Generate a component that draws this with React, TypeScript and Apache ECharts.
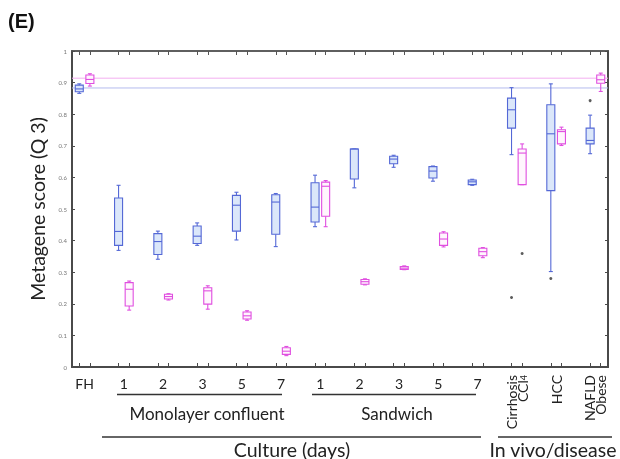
import React, { useEffect, useRef } from "react";
import * as echarts from "echarts";

// Group labels along the x axis (one per pair of boxes)
const groupLabels = [
  "FH", "1", "2", "3", "5", "7", "1", "2", "3", "5", "7",
  "Cirrhosis\nCCl4", "HCC", "NAFLD\nObese",
];

// Five-number summaries [min, q1, median, q3, max] for each group
const blueStats = [
  [0.866, 0.871, 0.880, 0.892, 0.896],
  [0.369, 0.385, 0.429, 0.535, 0.575],
  [0.341, 0.356, 0.397, 0.422, 0.430],
  [0.385, 0.391, 0.414, 0.446, 0.456],
  [0.402, 0.430, 0.512, 0.543, 0.553],
  [0.381, 0.420, 0.522, 0.545, 0.549],
  [0.444, 0.459, 0.506, 0.583, 0.607],
  [0.567, 0.595, 0.690, 0.690, 0.690],
  [0.632, 0.643, 0.658, 0.667, 0.670],
  [0.588, 0.598, 0.620, 0.634, 0.636],
  [0.575, 0.577, 0.586, 0.592, 0.594],
  [0.672, 0.756, 0.814, 0.851, 0.884],
  [0.302, 0.558, 0.738, 0.830, 0.896],
  [0.675, 0.706, 0.717, 0.756, 0.797],
];

const pinkStats = [
  [0.889, 0.897, 0.910, 0.924, 0.928],
  [0.180, 0.193, 0.246, 0.267, 0.272],
  [0.212, 0.215, 0.223, 0.230, 0.232],
  [0.183, 0.199, 0.241, 0.251, 0.257],
  [0.148, 0.152, 0.162, 0.174, 0.178],
  [0.036, 0.040, 0.050, 0.061, 0.065],
  [0.444, 0.477, 0.572, 0.585, 0.590],
  [0.260, 0.262, 0.270, 0.277, 0.279],
  [0.308, 0.309, 0.313, 0.318, 0.320],
  [0.380, 0.385, 0.405, 0.424, 0.428],
  [0.346, 0.352, 0.365, 0.376, 0.378],
  [0.577, 0.577, 0.677, 0.690, 0.706],
  [0.701, 0.706, 0.745, 0.751, 0.759],
  [0.872, 0.898, 0.909, 0.924, 0.930],
];

// Outliers as [group index, value]
const blueOutliers = [[11, 0.22], [12, 0.28], [13, 0.843]];
const pinkOutliers = [[11, 0.359]];

// Horizontal reference levels (FH medians)
const blueReference = 0.883;
const pinkReference = 0.914;

const BLUE_OFFSET = -0.135;
const PINK_OFFSET = 0.135;
const BOX_HALF = 0.102;

const blueStroke = "#5468d6";
const blueFill = "#dbe7fa";
const pinkStroke = "#e04fe0";
const pinkFill = "#fff6fd";

const font = "Lato, 'Open Sans', sans-serif";
const axisColor = "#4a4a4a";

const X_MIN = -0.32;
const X_MAX = 13.32;

const tickPositions: number[] = [];
groupLabels.forEach((_, i) => {
  tickPositions.push(i + BLUE_OFFSET, i + PINK_OFFSET);
});

const plainLabelValues = groupLabels.map((_, i) => i).filter((i) => i <= 10);
const rotatedLabelValues = groupLabels.map((_, i) => i).filter((i) => i > 10);

function makeBoxRenderer(offset: number, stroke: string, fill: string) {
  return (params: any, api: any) => {
    const x = api.value(0) + offset;
    const yMin = api.coord([x, api.value(1)])[1];
    const yQ1 = api.coord([x, api.value(2)])[1];
    const yMed = api.coord([x, api.value(3)])[1];
    const yQ3 = api.coord([x, api.value(4)])[1];
    const yMax = api.coord([x, api.value(5)])[1];
    const cx = api.coord([x, 0])[0];
    const hw = api.size([BOX_HALF, 0])[0];
    const cap = hw * 0.5;
    const ls = { stroke, lineWidth: 1.1 };
    return {
      type: "group",
      children: [
        { type: "line", shape: { x1: cx, y1: yMax, x2: cx, y2: yQ3 }, style: ls },
        { type: "line", shape: { x1: cx, y1: yQ1, x2: cx, y2: yMin }, style: ls },
        { type: "line", shape: { x1: cx - cap, y1: yMax, x2: cx + cap, y2: yMax }, style: ls },
        { type: "line", shape: { x1: cx - cap, y1: yMin, x2: cx + cap, y2: yMin }, style: ls },
        {
          type: "rect",
          shape: { x: cx - hw, y: yQ3, width: 2 * hw, height: Math.max(yQ1 - yQ3, 1.5) },
          style: { fill, stroke, lineWidth: 1.1 },
        },
        { type: "line", shape: { x1: cx - hw, y1: yMed, x2: cx + hw, y2: yMed }, style: ls },
      ],
    };
  };
}

// Vertical labels for the in vivo groups, placed under their group on the x scale
function rotatedLabelRenderer(params: any, api: any) {
  const idx = api.value(0);
  const [cx, cy] = api.coord([idx, 0]);
  const text =
    idx === 11
      ? "{a|Cirrhosis}\n{a|CCl}{s|4}"
      : groupLabels[idx]
          .split("\n")
          .map((t) => "{a|" + t + "}")
          .join("\n");
  return {
    type: "text",
    x: cx,
    y: cy + 8,
    rotation: Math.PI / 2,
    style: {
      text,
      align: "right",
      verticalAlign: "middle",
      fill: "#222",
      rich: {
        a: { fontSize: 14, fontFamily: font, fill: "#222", lineHeight: 11 },
        s: { fontSize: 9, fontFamily: font, fill: "#222", lineHeight: 11, verticalAlign: "bottom", padding: [4, 0, 0, 0] },
      },
    },
  };
}

// A horizontal reference line across the full plot width
function referenceSeries(value: number, color: string) {
  return {
    type: "line",
    xAxisIndex: 0,
    yAxisIndex: 0,
    z: 1,
    silent: true,
    showSymbol: false,
    symbol: "none",
    lineStyle: { color, width: 1 },
    itemStyle: { color },
    data: [
      [X_MIN, value],
      [X_MAX, value],
    ],
  };
}

export default function App() {
  const ref = useRef<HTMLDivElement>(null);

  useEffect(() => {
    if (!ref.current) return;
    const chart = echarts.init(ref.current, undefined, { renderer: "svg" });

    const option: any = {
      animation: false,
      grid: {
        left: 72,
        right: 12,
        top: 51,
        height: 316,
        show: true,
        borderColor: "#555",
        borderWidth: 1.5,
      },
      xAxis: [
        {
          type: "value",
          position: "bottom",
          min: X_MIN,
          max: X_MAX,
          splitLine: { show: false },
          axisLine: { show: true, onZero: false, lineStyle: { color: axisColor, width: 2 } },
          axisTick: {
            show: true,
            inside: true,
            length: 4,
            customValues: tickPositions,
            lineStyle: { color: axisColor, width: 1 },
          },
          axisLabel: {
            show: true,
            customValues: plainLabelValues,
            formatter: (v: number) => groupLabels[Math.round(v)],
            fontSize: 14,
            fontFamily: font,
            color: "#222",
            margin: 9,
          },
        },
        {
          type: "value",
          position: "top",
          min: X_MIN,
          max: X_MAX,
          splitLine: { show: false },
          axisLine: { show: true, onZero: false, lineStyle: { color: "#555", width: 1.5 } },
          axisTick: {
            show: true,
            inside: true,
            length: 4,
            customValues: tickPositions,
            lineStyle: { color: "#555", width: 1 },
          },
          axisLabel: { show: false },
        },
      ],
      yAxis: [
        {
          type: "value",
          position: "left",
          min: 0,
          max: 1,
          interval: 0.1,
          splitLine: { show: false },
          axisLine: { show: true, onZero: false, lineStyle: { color: axisColor, width: 2 } },
          axisTick: { show: true, inside: true, length: 3, lineStyle: { color: axisColor } },
          axisLabel: {
            fontSize: 6,
            color: "#777",
            fontFamily: font,
            margin: 5,
            formatter: (v: number) => (v === 0 ? "0" : v === 1 ? "1" : v.toFixed(1)),
          },
          name: "Metagene score (Q 3)",
          nameLocation: "middle",
          nameGap: 13,
          nameTextStyle: { fontSize: 19.5, fontFamily: font, color: "#222" },
        },
        {
          type: "value",
          position: "right",
          min: 0,
          max: 1,
          interval: 0.1,
          splitLine: { show: false },
          axisLine: { show: true, onZero: false, lineStyle: { color: axisColor, width: 2 } },
          axisTick: { show: true, inside: true, length: 3, lineStyle: { color: axisColor } },
          axisLabel: { show: false },
        },
      ],
      series: [
        referenceSeries(blueReference, "#b4bcee"),
        referenceSeries(pinkReference, "#f3aef0"),
        {
          type: "custom",
          name: "blue",
          renderItem: makeBoxRenderer(BLUE_OFFSET, blueStroke, blueFill),
          encode: { x: 0, y: [1, 2, 3, 4, 5] },
          data: blueStats.map((s, i) => [i, ...s]),
          z: 3,
        },
        {
          type: "custom",
          name: "pink",
          renderItem: makeBoxRenderer(PINK_OFFSET, pinkStroke, pinkFill),
          encode: { x: 0, y: [1, 2, 3, 4, 5] },
          data: pinkStats.map((s, i) => [i, ...s]),
          z: 3,
        },
        {
          type: "custom",
          name: "labels",
          silent: true,
          clip: false,
          renderItem: rotatedLabelRenderer,
          encode: { x: 0, y: 1 },
          data: rotatedLabelValues.map((i) => [i, 0]),
          z: 3,
        },
        {
          type: "scatter",
          symbolSize: 3,
          itemStyle: { color: "#333" },
          data: blueOutliers.map(([g, v]) => [g + BLUE_OFFSET, v]),
          z: 4,
        },
        {
          type: "scatter",
          symbolSize: 3,
          itemStyle: { color: "#333" },
          data: pinkOutliers.map(([g, v]) => [g + PINK_OFFSET, v]),
          z: 4,
        },
      ],
      graphic: [
        {
          type: "text",
          left: 8,
          top: 11,
          style: { text: "(E)", fontSize: 20, fontWeight: "bold", fontFamily: "'Liberation Sans', Arial, sans-serif", fill: "#111" },
        },
        { type: "line", shape: { x1: 117, y1: 394.5, x2: 282, y2: 394.5 }, style: { stroke: "#333", lineWidth: 1.4 } },
        { type: "line", shape: { x1: 312, y1: 394.5, x2: 476, y2: 394.5 }, style: { stroke: "#333", lineWidth: 1.4 } },
        {
          type: "text",
          x: 207,
          y: 413,
          style: { text: "Monolayer confluent", fontSize: 17, fontFamily: font, fill: "#222", align: "center", verticalAlign: "middle" },
        },
        {
          type: "text",
          x: 397,
          y: 413,
          style: { text: "Sandwich", fontSize: 17, fontFamily: font, fill: "#222", align: "center", verticalAlign: "middle" },
        },
        { type: "line", shape: { x1: 102, y1: 437, x2: 481, y2: 437 }, style: { stroke: "#333", lineWidth: 1.4 } },
        { type: "line", shape: { x1: 498, y1: 437, x2: 612, y2: 437 }, style: { stroke: "#333", lineWidth: 1.4 } },
        {
          type: "text",
          x: 292,
          y: 449,
          style: { text: "Culture (days)", fontSize: 19.5, fontFamily: font, fill: "#222", align: "center", verticalAlign: "middle" },
        },
        {
          type: "text",
          x: 553,
          y: 449,
          style: { text: "In vivo/disease", fontSize: 19.5, fontFamily: font, fill: "#222", align: "center", verticalAlign: "middle" },
        },
      ],
    };

    chart.setOption(option);
    return () => chart.dispose();
  }, []);

  return <div ref={ref} style={{ width: 620, height: 459, position: "fixed", left: 0, top: 0 }} />;
}
